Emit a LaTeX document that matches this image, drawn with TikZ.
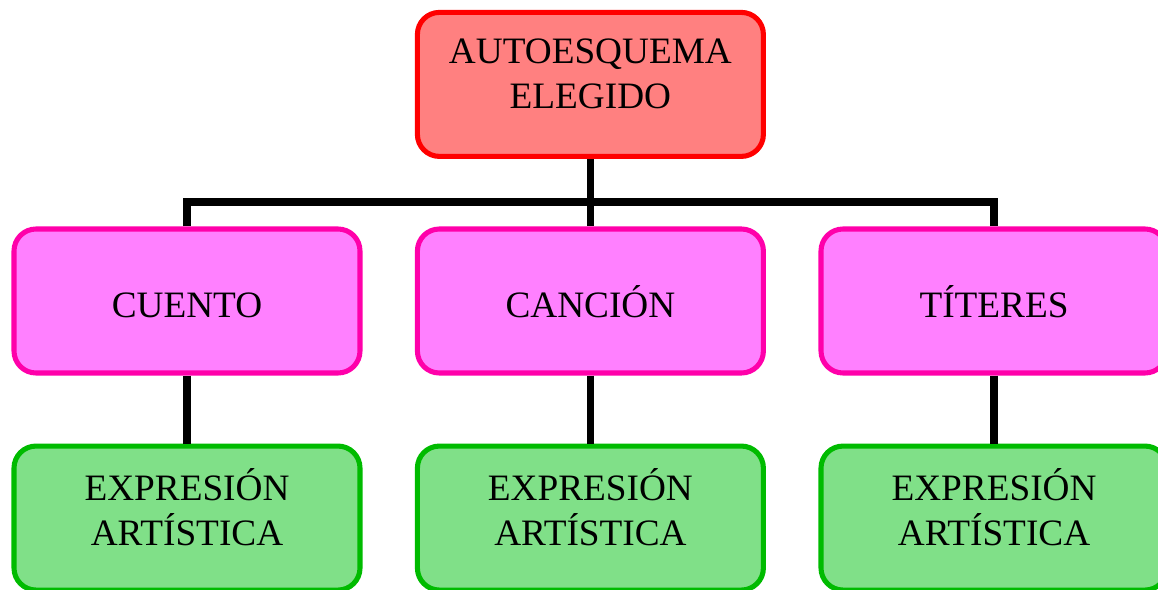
\documentclass[tikz,border=0pt]{standalone}
\usepackage{fontspec}
\setmainfont{Liberation Serif}
\usetikzlibrary{positioning}

\definecolor{topfill}{RGB}{255,128,128}
\definecolor{topline}{RGB}{255,0,0}
\definecolor{midfill}{RGB}{255,128,255}
\definecolor{midline}{RGB}{255,0,170}
\definecolor{lowfill}{RGB}{128,224,136}
\definecolor{lowline}{RGB}{0,187,0}

\tikzset{
  boxtext/.style={align=center, font=\fontsize{26.5}{32}\selectfont},
  box/.style={draw, line width=3.6pt, rounded corners=0.55cm, minimum width=8.65cm,
    minimum height=3.6cm, boxtext},
  twoline/.style={label={[boxtext, yshift=0.26cm]center:#1}},
  topbox/.style={box, fill=topfill, draw=topline},
  midbox/.style={box, fill=midfill, draw=midline, text height=23pt, text depth=0pt},
  lowbox/.style={box, fill=lowfill, draw=lowline},
  conn/.style={line width=5pt, black}
}

\begin{document}
\begin{tikzpicture}
    \useasboundingbox (0,0) rectangle (28.95,-14.75);

    \coordinate (bar) at (14.76,-5.05);

    % Top box
    \node[topbox, twoline={AUTOESQUEMA\\ELEGIDO}] (autoesquema) at (14.76,-2.11) {};

    % Second row
    \node[midbox] (cuento) at (4.675,-7.525) {CUENTO};
    \node[midbox] (cancion) at (14.76,-7.525) {CANCIÓN};
    \node[midbox] (titeres) at (24.85,-7.525) {TÍTERES};

    % Third row
    \node[lowbox, below=1.7cm of cuento, twoline={EXPRESIÓN\\ARTÍSTICA}] (expr1) {};
    \node[lowbox, below=1.7cm of cancion, twoline={EXPRESIÓN\\ARTÍSTICA}] (expr2) {};
    \node[lowbox, below=1.7cm of titeres, twoline={EXPRESIÓN\\ARTÍSTICA}] (expr3) {};

    % Lines
    \draw[conn] (autoesquema.south) -- (cancion.north);
    \draw[conn] (cuento.north) -- (cuento.north |- bar) -- (titeres.north |- bar) -- (titeres.north);
    \draw[conn] (cuento.south) -- (expr1.north);
    \draw[conn] (cancion.south) -- (expr2.north);
    \draw[conn] (titeres.south) -- (expr3.north);
\end{tikzpicture}
\end{document}
